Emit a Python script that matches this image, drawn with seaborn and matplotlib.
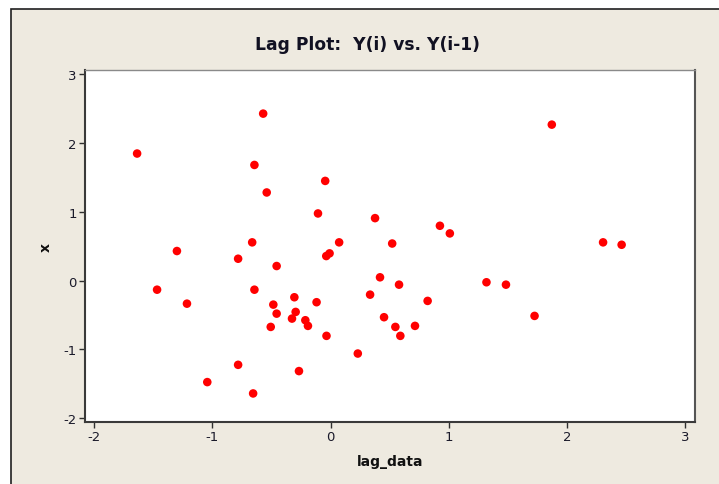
import matplotlib
matplotlib.use("Agg")
import matplotlib.pyplot as plt
import matplotlib.patches as patches
import pandas as pd
import seaborn as sns

# points (lag_data, x)
lag_data = [-0.570, -1.637, -0.644, -0.045, -0.540, -0.106, 0.377, -0.663, 0.073, 0.522,
            -1.300, 1.873, 0.926, 1.010, 2.307, 2.464, -0.782, -0.456, -0.036, -0.008,
            0.419, -1.468, -0.644, -1.215, -0.306, -0.118, 0.335, -0.484, -0.456, -0.295,
            -0.326, -0.213, -0.191, -0.506, 0.453, -0.034, 0.231, -0.782, -0.267, -1.043,
            -0.655, 0.580, 1.320, 1.485, 0.822, 1.727, 0.549, 0.715, 0.591]
x_vals = [2.428, 1.848, 1.682, 1.450, 1.282, 0.977, 0.909, 0.557, 0.557, 0.540,
          0.431, 2.268, 0.798, 0.687, 0.557, 0.522, 0.319, 0.213, 0.358, 0.397,
          0.049, -0.131, -0.131, -0.334, -0.241, -0.313, -0.203, -0.348, -0.479, -0.454,
          -0.551, -0.575, -0.657, -0.672, -0.531, -0.802, -1.059, -1.223, -1.314, -1.474,
          -1.639, -0.058, -0.023, -0.058, -0.294, -0.512, -0.672, -0.657, -0.802]
x_ticks = [-2, -1, 0, 1, 2, 3]
y_ticks = [-2, -1, 0, 1, 2, 3]

df = pd.DataFrame({"lag_data": lag_data, "x": x_vals})

sns.set_style("ticks")
plt.rcParams["font.family"] = ["DejaVu Sans"]
plt.rcParams["axes.unicode_minus"] = False

fig = plt.figure(figsize=(7.19, 4.85), dpi=100)
fig.patch.set_facecolor("white")

# beige panel, dark frame shows only on top/left
bg = patches.Rectangle((11 / 719, -0.1), 1, 1.1 - 10 / 485, transform=fig.transFigure,
                       facecolor="#EEEAE0", edgecolor="#202020", linewidth=1.2, zorder=-5)
fig.patches.append(bg)

ax = fig.add_axes([85 / 719, 1 - 423 / 485, 610 / 719, 352 / 485])
ax.set_facecolor("white")

sns.scatterplot(data=df, x="lag_data", y="x", ax=ax, color="#FF0000",
                s=38, edgecolor="none", linewidth=0)

ax.set_xlim(-2.078, 3.085)
ax.set_ylim(-2.054, 3.062)
ax.set_xticks(x_ticks)
ax.set_yticks(y_ticks)
ax.tick_params(direction="out", length=4, width=1, color="#303030",
               labelsize=9.5, labelcolor="#1a1a2a", pad=2)

for side in ["left", "bottom"]:
    ax.spines[side].set_color("#3a3a3a")
    ax.spines[side].set_linewidth(1.5)
ax.spines["top"].set_color("#8a8a8a")
ax.spines["top"].set_linewidth(1.0)
ax.spines["right"].set_color("#555555")
ax.spines["right"].set_linewidth(1.5)

ax.set_xlabel("lag_data", fontsize=10, fontweight="bold", color="#111111", labelpad=8)
ax.set_ylabel("x", fontsize=10, fontweight="bold", color="#111111", labelpad=8)

fig.text(367 / 719, 1 - 45 / 485, "Lag Plot:  Y(i) vs. Y(i-1)", ha="center", va="center",
         fontsize=12.3, fontweight="bold", color="#111122")

fig.savefig("out.png", dpi=100)
